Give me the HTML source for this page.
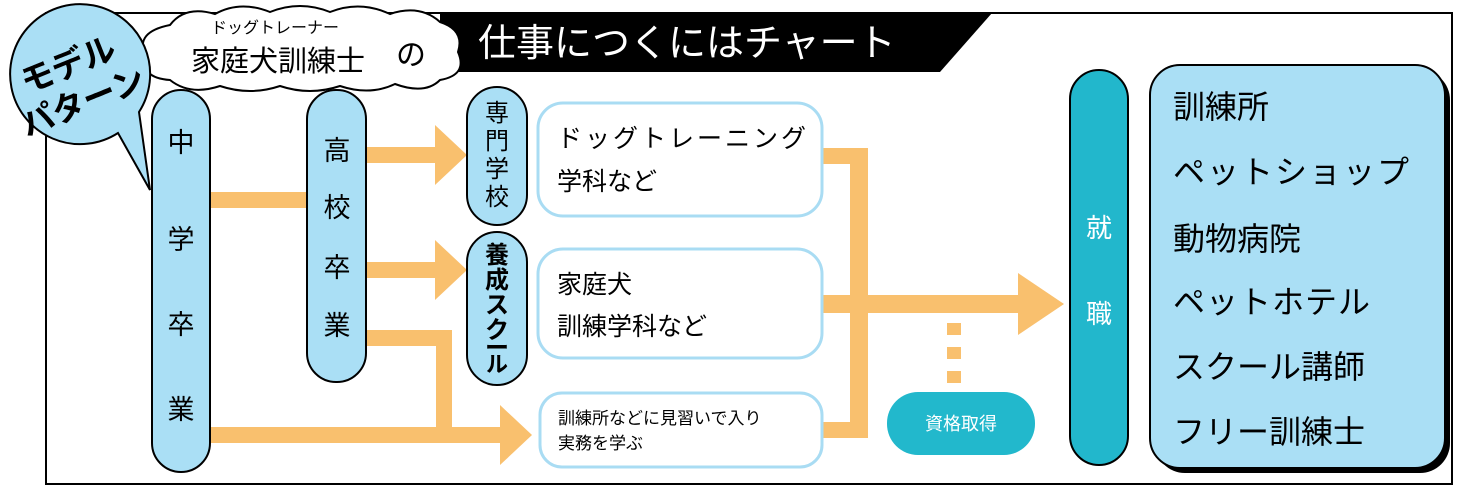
<!DOCTYPE html>
<html><head><meta charset="utf-8"><style>
html,body{margin:0;padding:0;background:#fff;}
svg{display:block;font-family:"Liberation Sans","Noto Sans CJK JP",sans-serif;}
</style></head><body>
<svg width="1459" height="487" viewBox="0 0 1459 487" xmlns="http://www.w3.org/2000/svg">
<rect x="46" y="13" width="1406" height="471" fill="#fff" stroke="#000" stroke-width="2"/>
<polygon points="440,13 992,13 940,72 440,72" fill="#000"/>
<text x="478" y="56" font-size="38" fill="#fff">仕事につくにはチャート</text>
<!-- cloud -->
<g fill="#fff" stroke="#000" stroke-width="2">
<path d="M170,25 Q185,5 215,14 Q240,0 270,12 Q300,0 330,12 Q360,0 390,14 Q420,4 440,22 Q465,30 458,52 Q468,75 440,80 Q425,95 395,84 Q370,96 340,86 Q310,96 280,86 Q250,96 220,86 Q190,96 170,80 Q140,78 145,55 Q135,32 170,25 Z"/>
</g>
<text x="275" y="33" font-size="16" text-anchor="middle">ドッグトレーナー</text>
<text x="278" y="71" font-size="29" text-anchor="middle">家庭犬訓練士</text>
<text x="396" y="65" font-size="30">の</text>
<!-- speech bubble -->
<path d="M118,133 A70,70 0 1 1 139,112 L150,190 Z" fill="#aadff5" stroke="#000" stroke-width="2" stroke-linejoin="miter"/>
<g transform="rotate(-22 75 82)" font-weight="bold" font-size="33">
<text x="75" y="75" text-anchor="middle">モデル</text>
<text x="75" y="115" text-anchor="middle">パターン</text>
</g>
<!-- orange connectors -->
<g fill="#f9c06e">
<rect x="208" y="192" width="102" height="16"/>
<rect x="364" y="147" width="76" height="16"/>
<polygon points="435,125 467,155 435,185"/>
<rect x="364" y="262" width="76" height="16"/>
<polygon points="435,240 467,270 435,300"/>
<rect x="364" y="330" width="88" height="16"/>
<rect x="436" y="330" width="16" height="105"/>
<rect x="208" y="427" width="295" height="16"/>
<polygon points="500,405 532,435 500,465"/>
<rect x="820" y="148" width="48" height="16"/>
<rect x="850" y="148" width="18" height="290"/>
<rect x="820" y="422" width="48" height="16"/>
<rect x="820" y="295" width="200" height="18"/>
<polygon points="1018,273 1064,304 1018,335"/>
<rect x="947" y="323" width="14" height="12"/>
<rect x="947" y="347" width="14" height="12"/>
<rect x="947" y="371" width="14" height="12"/>
</g>
<!-- pills -->
<g fill="#aadff5" stroke="#000" stroke-width="2">
<rect x="152" y="90" width="58" height="382" rx="29"/>
<rect x="307" y="90" width="59" height="292" rx="29"/>
<rect x="467" y="87" width="60" height="138" rx="30"/>
<rect x="467" y="232" width="60" height="153" rx="30"/>
</g>
<g font-size="27" text-anchor="middle">
<text x="181" y="152">中</text><text x="181" y="249">学</text><text x="181" y="334">卒</text><text x="181" y="419">業</text>
<text x="337" y="160">高</text><text x="337" y="217">校</text><text x="337" y="277">卒</text><text x="337" y="335">業</text>
</g>
<g font-size="24" text-anchor="middle">
<text x="497" y="121">専</text><text x="497" y="149">門</text><text x="497" y="177">学</text><text x="497" y="205">校</text>
</g>
<g font-size="24" text-anchor="middle" font-weight="bold">
<text x="497" y="263">養</text><text x="497" y="288">成</text><text x="497" y="313">ス</text><text x="497" y="338">ク</text><text x="497" y="356">ー</text><text x="497" y="372" font-size="22">ル</text>
</g>
<!-- boxes -->
<g fill="#fff" stroke="#a9dcf3" stroke-width="3">
<rect x="538" y="103" width="284" height="113" rx="25"/>
<rect x="538" y="249" width="284" height="109" rx="25"/>
<rect x="540" y="393" width="282" height="74" rx="22"/>
</g>
<g font-size="25">
<text x="557" y="147" letter-spacing="3">ドッグトレーニング</text>
<text x="557" y="190">学科など</text>
<text x="557" y="293">家庭犬</text>
<text x="557" y="335">訓練学科など</text>
</g>
<g font-size="17">
<text x="558" y="424">訓練所などに見習いで入り</text>
<text x="558" y="449">実務を学ぶ</text>
</g>
<rect x="887" y="392" width="148" height="63" rx="31" fill="#22b8cc"/>
<text x="961" y="430" font-size="18" fill="#fff" text-anchor="middle">資格取得</text>
<rect x="1070" y="70" width="58" height="395" rx="29" fill="#22b7cc" stroke="#000" stroke-width="2"/>
<text x="1099" y="237" font-size="26" fill="#fff" text-anchor="middle">就</text>
<text x="1099" y="323" font-size="26" fill="#fff" text-anchor="middle">職</text>
<rect x="1155" y="70" width="295" height="403" rx="30" fill="#000"/>
<rect x="1150" y="65" width="295" height="403" rx="30" fill="#aadff5" stroke="#000" stroke-width="2"/>
<g font-size="32">
<text x="1173" y="118">訓練所</text>
<text x="1173" y="183" letter-spacing="2">ペットショップ</text>
<text x="1173" y="250">動物病院</text>
<text x="1173" y="313" letter-spacing="1">ペットホテル</text>
<text x="1173" y="378">スクール講師</text>
<text x="1173" y="443">フリー訓練士</text>
</g>
</svg>
</body></html>
